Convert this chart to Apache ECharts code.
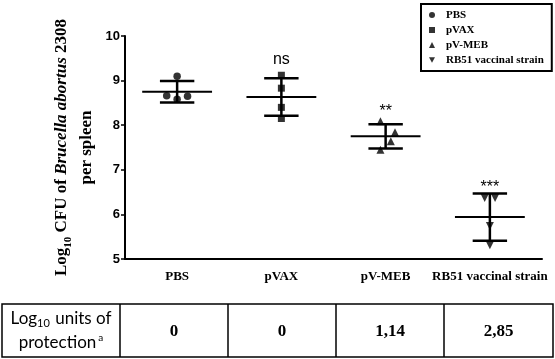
<!DOCTYPE html>
<html>
<head>
<meta charset="utf-8">
<script src="https://cdn.jsdelivr.net/npm/echarts@6/dist/echarts.min.js"></script>
<style>
  html, body { margin: 0; padding: 0; background: #fff; }
  #chart { width: 555px; height: 359px; }
</style>
</head>
<body>
<div id="chart"></div>
<script>
  // groups on the x axis
  var groups = ['PBS', 'pVAX', 'pV-MEB', 'RB51 vaccinal strain']
  var yTicks = [5, 6, 7, 8, 9, 10]

  // individual mice (log10 CFU), x = group index + small jitter
  var pbsX = [0, -0.1, 0, 0.1]
  var pbsY = [9.10, 8.66, 8.58, 8.65]
  var pvaxX = [1, 1, 1, 1]
  var pvaxY = [9.12, 8.83, 8.40, 8.15]
  var pmebX = [1.95, 2.09, 2.05, 1.95]
  var pmebY = [8.09, 7.84, 7.64, 7.45]
  var rb51X = [2.95, 3.05, 3, 3]
  var rb51Y = [6.37, 6.37, 5.74, 5.31]

  // mean and SD per group
  var means = [8.75, 8.63, 7.75, 5.94]
  var sds = [0.24, 0.42, 0.27, 0.53]

  // significance marks and where they sit
  var sigText = ['', 'ns', '**', '***']
  var sigY = [null, 9.48, 8.3, 6.6]

  // table below the chart
  var tableValues = ['0', '0', '1,14', '2,85']

  var chart = echarts.init(document.getElementById('chart'))

  function toPoints(xs, ys){
    return xs.map(function(x, i){ return [x, ys[i]] })
  }

  var serif = 'Liberation Serif'
  var sans = 'Liberation Sans'

  // table geometry
  var colX = [2, 120, 228, 336, 444, 553]
  var rowTop = 304, rowBottom = 357
  var tableGraphics = [{
    type: 'rect',
    shape: { x: colX[0], y: rowTop, width: colX[5] - colX[0], height: rowBottom - rowTop },
    style: { fill: 'none', stroke: '#000', lineWidth: 1.5 }
  }]
  for (var c = 1; c < colX.length - 1; c++) {
    tableGraphics.push({
      type: 'line',
      shape: { x1: colX[c], y1: rowTop, x2: colX[c], y2: rowBottom },
      style: { stroke: '#000', lineWidth: 1.5 }
    })
  }
  tableGraphics.push({
    type: 'text',
    x: (colX[0] + colX[1]) / 2, y: 319,
    style: {
      text: '{a|Log}{s|10}{a| units of}',
      align: 'center', verticalAlign: 'middle',
      rich: {
        a: { fontFamily: 'Lato', fontSize: 17, fill: '#000', lineHeight: 20 },
        s: { fontFamily: 'Lato', fontSize: 11, fill: '#000', lineHeight: 20, verticalAlign: 'bottom', padding: [6, 1, 0, 0] }
      }
    }
  })
  tableGraphics.push({
    type: 'text',
    x: (colX[0] + colX[1]) / 2, y: 343,
    style: {
      text: '{a|protection}{p|a}',
      align: 'center', verticalAlign: 'middle',
      rich: {
        a: { fontFamily: 'Lato', fontSize: 17, fill: '#000', lineHeight: 20 },
        p: { fontFamily: 'Lato', fontSize: 10, fill: '#000', lineHeight: 20, verticalAlign: 'top', padding: [0, 0, 10, 2] }
      }
    }
  })
  tableValues.forEach(function(v, i){
    tableGraphics.push({
      type: 'text',
      x: (colX[i + 1] + colX[i + 2]) / 2, y: 332,
      style: {
        text: v, align: 'center', verticalAlign: 'middle',
        font: 'bold 17px ' + serif, fill: '#000'
      }
    })
  })

  var pointStyle = { color: '#000' }

  chart.setOption({
    animation: false,
    grid: { left: 125, right: 13, top: 36, bottom: 100 },
    legend: {
      orient: 'vertical',
      left: 421,
      top: 4,
      width: 129,
      padding: [5, 8, 5, 8],
      borderColor: '#000',
      borderWidth: 2,
      itemWidth: 6,
      itemHeight: 6,
      itemGap: 3,
      data: groups,
      textStyle: {
        fontFamily: serif, fontWeight: 'bold', fontSize: 11, color: '#000',
        lineHeight: 12, padding: [0, 0, 0, 6]
      }
    },
    xAxis: [{
      type: 'category',
      data: groups,
      axisLine: { lineStyle: { color: '#000', width: 2 } },
      axisTick: { alignWithLabel: true, length: 4, lineStyle: { color: '#000', width: 1.5 } },
      axisLabel: { interval: 0, color: '#000', fontFamily: serif, fontWeight: 'bold', fontSize: 13, margin: 11 },
      splitLine: { show: false }
    }, {
      type: 'value',
      min: -0.5,
      max: 3.5,
      show: false
    }],
    yAxis: {
      type: 'value',
      min: yTicks[0],
      max: yTicks[yTicks.length - 1],
      interval: 1,
      axisLine: { show: true, onZero: false, lineStyle: { color: '#000', width: 2 } },
      axisTick: { show: true, length: 4, lineStyle: { color: '#000', width: 1.5 } },
      axisLabel: { color: '#000', fontFamily: sans, fontWeight: 'bold', fontSize: 13, margin: 5 },
      splitLine: { show: false },
      name: '{b|Log}{s|10}{b| CFU of }{i|Brucella abortus}{b| 2308}\n{b|per spleen}',
      nameLocation: 'middle',
      nameRotate: 90,
      nameGap: 23,
      nameTextStyle: {
        color: '#000',
        rich: {
          b: { fontFamily: serif, fontWeight: 'bold', fontSize: 17, lineHeight: 25, color: '#000' },
          i: { fontFamily: serif, fontWeight: 'bold', fontStyle: 'italic', fontSize: 17, lineHeight: 25, color: '#000' },
          s: { fontFamily: serif, fontWeight: 'bold', fontSize: 11, lineHeight: 25, color: '#000', verticalAlign: 'bottom', padding: [5, 0, 0, 0] }
        }
      }
    },
    graphic: tableGraphics,
    series: [{
      type: 'custom',
      xAxisIndex: 0,
      silent: true,
      data: means.map(function(m, i){ return [i, m, sds[i], sigY[i]] }),
      renderItem: function(params, api){
        var x = api.value(0), m = api.value(1), s = api.value(2)
        var c = api.coord([x, m])
        var top = api.coord([x, m + s])
        var bot = api.coord([x, m - s])
        var bw = api.size([1, 0])[0]
        var wm = bw * 0.335, wc = bw * 0.165
        var children = [
          { type: 'line', shape: { x1: c[0] - wm, y1: c[1], x2: c[0] + wm, y2: c[1] }, style: { stroke: '#000', lineWidth: 2 } },
          { type: 'line', shape: { x1: c[0], y1: top[1], x2: c[0], y2: bot[1] }, style: { stroke: '#000', lineWidth: 2.5 } },
          { type: 'line', shape: { x1: c[0] - wc, y1: top[1], x2: c[0] + wc, y2: top[1] }, style: { stroke: '#000', lineWidth: 2.5 } },
          { type: 'line', shape: { x1: c[0] - wc, y1: bot[1], x2: c[0] + wc, y2: bot[1] }, style: { stroke: '#000', lineWidth: 2.5 } }
        ]
        var t = sigText[params.dataIndex]
        if (t) {
          var p = api.coord([x, api.value(3)])
          children.push({
            type: 'text', x: p[0], y: p[1],
            style: {
              text: t, align: 'center', verticalAlign: 'middle',
              font: '16px ' + sans, fill: '#000'
            }
          })
        }
        return { type: 'group', children: children }
      },
      z: 2
    }, {
      name: 'PBS', type: 'scatter', xAxisIndex: 1,
      symbol: 'circle', symbolSize: 7.5, itemStyle: pointStyle,
      data: toPoints(pbsX, pbsY), z: 3
    }, {
      name: 'pVAX', type: 'scatter', xAxisIndex: 1,
      symbol: 'rect', symbolSize: 7, itemStyle: pointStyle,
      data: toPoints(pvaxX, pvaxY), z: 3
    }, {
      name: 'pV-MEB', type: 'scatter', xAxisIndex: 1,
      symbol: 'triangle', symbolSize: 8, itemStyle: pointStyle,
      data: toPoints(pmebX, pmebY), z: 3
    }, {
      name: 'RB51 vaccinal strain', type: 'scatter', xAxisIndex: 1,
      symbol: 'path://M0,0 L10,0 L5,9 Z', symbolSize: 8, itemStyle: pointStyle,
      data: toPoints(rb51X, rb51Y), z: 3
    }]
  })
</script>
</body>
</html>
